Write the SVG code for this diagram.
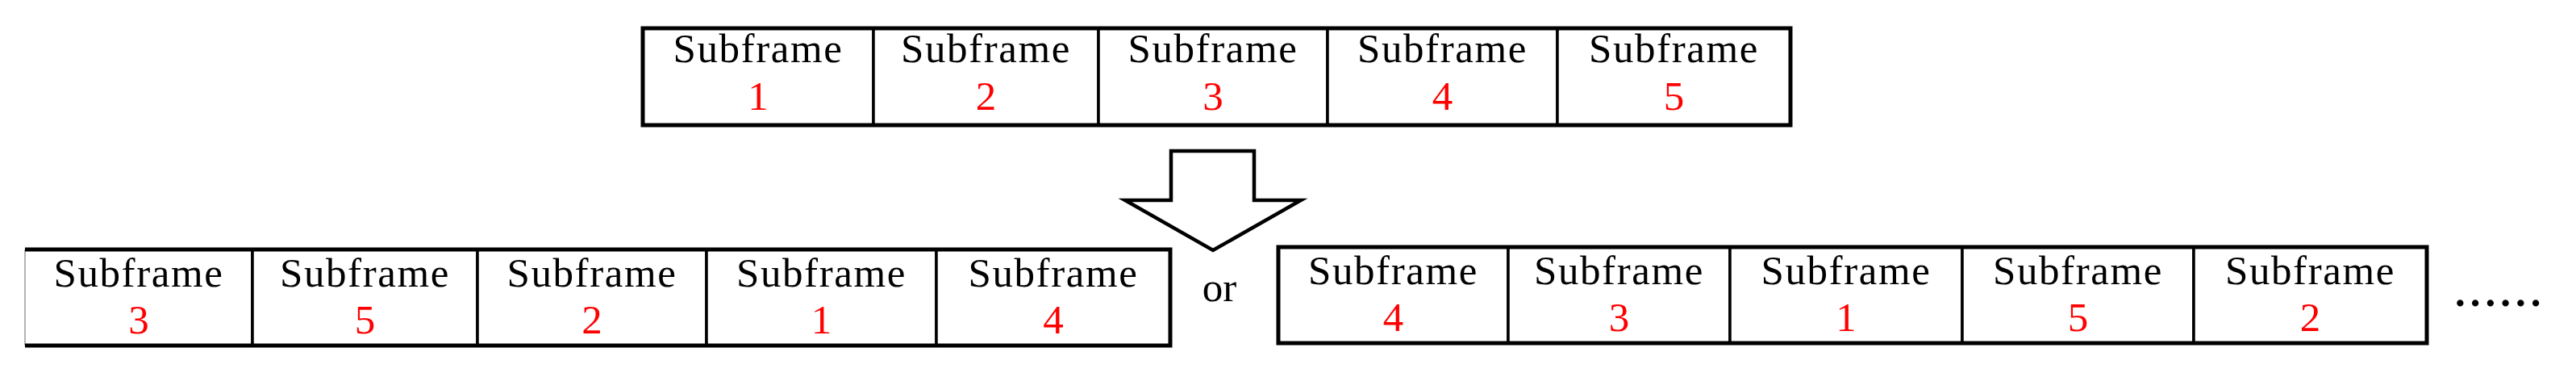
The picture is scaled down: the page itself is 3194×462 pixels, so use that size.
<svg xmlns="http://www.w3.org/2000/svg" width="3194" height="462" viewBox="0 0 3194 462">
<style>
.cell{fill:#fff;stroke:#000;stroke-width:3.5}
.open{fill:none;stroke:#000;stroke-width:3.5}
.frame{fill:none;stroke:#000;stroke-width:5}
.faint{fill:none;stroke:#9a9a9a;stroke-width:1.5}
.lbl{font-family:"Liberation Serif","Times New Roman",serif;font-size:51px;fill:#000;text-anchor:middle;letter-spacing:1.6px}
.num{font-family:"Liberation Serif","Times New Roman",serif;font-size:51px;fill:#ff0000;text-anchor:middle}
.txt{font-family:"Liberation Serif","Times New Roman",serif;font-size:51px;fill:#000}
.arrow{fill:#fff;stroke:#000;stroke-width:4.5;stroke-linejoin:miter}
</style>
<rect width="3194" height="462" fill="#fff"/>

<g id="original">
  <g id="top-1"><rect class="cell" x="797" y="35" width="286" height="120"/><text class="lbl" x="940" y="77">Subframe</text><text class="num" x="940" y="136">1</text></g>
  <g id="top-2"><rect class="cell" x="1083" y="35" width="279" height="120"/><text class="lbl" x="1222.5" y="77">Subframe</text><text class="num" x="1222.5" y="136">2</text></g>
  <g id="top-3"><rect class="cell" x="1362" y="35" width="284" height="120"/><text class="lbl" x="1504" y="77">Subframe</text><text class="num" x="1504" y="136">3</text></g>
  <g id="top-4"><rect class="cell" x="1646" y="35" width="285" height="120"/><text class="lbl" x="1788.5" y="77">Subframe</text><text class="num" x="1788.5" y="136">4</text></g>
  <g id="top-5"><rect class="cell" x="1931" y="35" width="289" height="120"/><text class="lbl" x="2075.5" y="77">Subframe</text><text class="num" x="2075.5" y="136">5</text></g>
  <rect class="frame" x="797" y="35" width="1423" height="120"/>
</g>

<g id="order-a">
  <g id="a-1"><path class="open" d="M31 309 H313 V428 H31"/><line class="faint" x1="31" y1="309" x2="31" y2="428"/><text class="lbl" x="172" y="355">Subframe</text><text class="num" x="172" y="413">3</text></g>
  <g id="a-2"><rect class="cell" x="313" y="309" width="279" height="119"/><text class="lbl" x="452.5" y="355">Subframe</text><text class="num" x="452.5" y="413">5</text></g>
  <g id="a-3"><rect class="cell" x="592" y="309" width="284" height="119"/><text class="lbl" x="734" y="355">Subframe</text><text class="num" x="734" y="413">2</text></g>
  <g id="a-4"><rect class="cell" x="876" y="309" width="285" height="119"/><text class="lbl" x="1018.5" y="355">Subframe</text><text class="num" x="1018.5" y="413">1</text></g>
  <g id="a-5"><rect class="cell" x="1161" y="309" width="290" height="119"/><text class="lbl" x="1306" y="355">Subframe</text><text class="num" x="1306" y="413">4</text></g>
  <path class="frame" d="M31 309 H1451 V428 H31"/>
</g>

<g id="or-label"><text class="txt" x="1512" y="373" text-anchor="middle">or</text></g>

<g id="order-b">
  <g id="b-1"><rect class="cell" x="1585" y="306" width="285" height="119"/><text class="lbl" x="1727.5" y="352">Subframe</text><text class="num" x="1727.5" y="410">4</text></g>
  <g id="b-2"><rect class="cell" x="1870" y="306" width="275" height="119"/><text class="lbl" x="2007.5" y="352">Subframe</text><text class="num" x="2007.5" y="410">3</text></g>
  <g id="b-3"><rect class="cell" x="2145" y="306" width="288" height="119"/><text class="lbl" x="2289" y="352">Subframe</text><text class="num" x="2289" y="410">1</text></g>
  <g id="b-4"><rect class="cell" x="2433" y="306" width="287" height="119"/><text class="lbl" x="2576.5" y="352">Subframe</text><text class="num" x="2576.5" y="410">5</text></g>
  <g id="b-5"><rect class="cell" x="2720" y="306" width="289" height="119"/><text class="lbl" x="2864.5" y="352">Subframe</text><text class="num" x="2864.5" y="410">2</text></g>
  <rect class="frame" x="1585" y="306" width="1424" height="119"/>
</g>

<g id="ellipsis"><text class="txt" x="3044" y="379" font-size="60" font-weight="bold" letter-spacing="6">......</text></g>

<g id="connectors">
  <polygon class="arrow" points="1452,187 1555,187 1555,248 1613,248 1504,310 1395,248 1452,248"/>
</g>
</svg>
